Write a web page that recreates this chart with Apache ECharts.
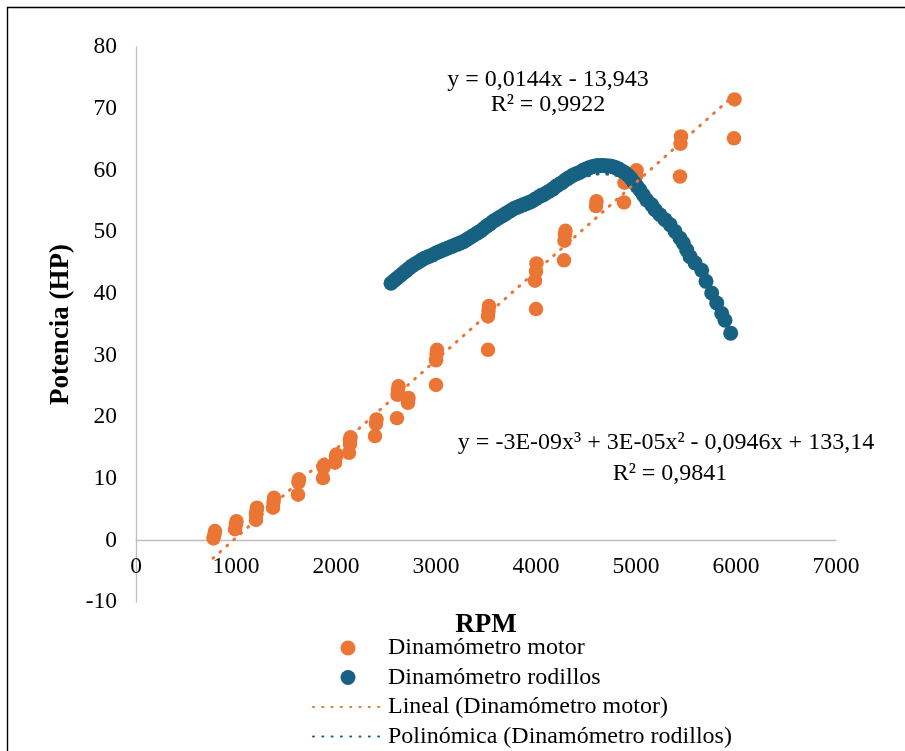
<!DOCTYPE html>
<html>
<head>
<meta charset="utf-8">
<script src="https://cdn.jsdelivr.net/npm/echarts@6/dist/echarts.min.js"></script>
<style>
html,body{margin:0;padding:0;background:#fff;}
#chart{width:905px;height:751px;}
</style>
</head>
<body>
<div id="chart"></div>
<script>
// ---- Data ----
const motorRpm = [775,785,790, 990,1000,1005, 1200,1200,1205,1210, 1370,1375,1380, 1620,1625,1630,
  1870,1875,1880, 1990,2000,2005, 2130,2140,2140,2145, 2390,2400,2405, 2610,2615,2620,2625, 2720,2725,
  3000,3000,3005,3010, 3520,3520,3525,3530, 4000,3990,4000,4005, 4280,4285,4290,4295, 4600,4605,
  4880,4885, 5000,5005, 5440,5445,5450, 5980,5985];
const motorHp = [0.3,1.0,1.5, 1.8,2.6,3.1, 3.3,4.2,4.8,5.3, 5.3,6.2,6.9, 7.4,9.4,9.9,
  10.1,11.8,12.2, 12.6,13.6,13.9, 14.2,15.6,16.2,16.7, 16.9,18.9,19.6, 19.8,23.6,24.4,25.0, 22.3,23.1,
  25.2,29.2,30.2,30.9, 30.9,36.3,37.2,38.0, 37.5,42.1,43.6,44.9, 45.4,48.6,49.6,50.2, 54.2,55.0,
  54.8,58.0, 59.0,60.0, 59.0,64.3,65.5, 65.2,71.5];

const rodRpm = [2550,2580,2610,2640,2670,2700,2730,2760,2790,2820,2850,2880,2910,2940,2970,
  3000,3030,3060,3090,3120,3150,3180,3210,3240,3270,3300,3330,3360,3390,3420,3450,3480,3510,3540,3570,
  3600,3630,3660,3690,3720,3750,3780,3810,3840,3870,3900,3930,3960,3990,4020,4050,4080,4110,4140,4170,
  4200,4230,4260,4290,4320,4350,4380,4410,4440,4470,4500,4530,4560,4590,4620,4650,4680,4710,4740,4770,
  4800,4830,4860,4890,4920,4950,4980,5010,5040,5073,5107,5157,5190,5240,5290,5340,5390,5440,5473,5507,
  5540,5590,5657,5700,5757,5807,5857,5890,5947];
const rodHp = [41.7,42.1,42.5,42.9,43.3,43.7,44.1,44.5,44.8,45.1,45.4,45.7,45.9,46.1,46.3,
  46.6,46.8,47.0,47.2,47.4,47.6,47.8,48.0,48.2,48.4,48.7,49.0,49.3,49.6,49.9,50.2,50.6,51.0,51.3,51.7,
  52.0,52.3,52.6,52.9,53.2,53.5,53.8,54.0,54.2,54.4,54.6,54.8,55.0,55.3,55.6,55.9,56.1,56.4,56.7,57.0,
  57.4,57.7,58.0,58.4,58.7,59.0,59.3,59.5,59.7,60.0,60.2,60.4,60.6,60.7,60.8,60.8,60.8,60.7,60.7,60.6,
  60.4,60.2,59.9,59.6,59.2,58.7,58.0,57.4,56.8,56.0,55.2,54.4,53.6,52.8,52.0,51.2,50.1,49.0,48.2,47.1,
  46.0,45.0,43.8,42.0,40.1,38.5,36.8,35.7,33.6];

// trend lines (as seen in the picture)
const linRpm = [770, 5990];
const linHp = [-2.9, 72.3];
const polRpm = [2550,2800,3050,3300,3550,3800,4050,4300,4500,4650,4800,4950,5100,5250,5400,5550,5700,5850,5950];
const polHp = [42.3,44.6,46.9,49.2,51.6,53.9,56.0,57.8,59.0,59.4,59.2,58.3,56.5,53.8,50.2,46.0,41.4,36.6,33.4];

const seriesNames = ['Dinamómetro motor','Dinamómetro rodillos','Lineal (Dinamómetro motor)','Polinómica (Dinamómetro rodillos)'];
const xTitle = 'RPM';
const yTitle = 'Potencia (HP)';
const eqLin = ['y = 0,0144x - 13,943', 'R² = 0,9922'];
const eqPol = ['y = -3E-09x³ + 3E-05x² - 0,0946x + 133,14', 'R² = 0,9841'];

const ORANGE = '#EB7534';
const BLUE = '#176182';
const FONT = '"Liberation Serif", "Times New Roman", serif';

const zip = (a, b) => a.map((v, i) => [v, b[i]]);

const chart = echarts.init(document.getElementById('chart'), null, {renderer: 'canvas'});
chart.setOption({
  animation: false,
  backgroundColor: '#fff',
  textStyle: {fontFamily: FONT, color: '#000'},
  grid: {left: 136, right: 69, top: 47, bottom: 149},
  xAxis: {
    type: 'value', min: 0, max: 7000, interval: 1000,
    offset: -61.7,
    name: xTitle, nameLocation: 'middle', nameGap: 71,
    nameTextStyle: {fontFamily: FONT, fontWeight: 'bold', fontSize: 27, color: '#000'},
    axisLine: {show: true, onZero: false, lineStyle: {color: '#BFBFBF', width: 1.3}},
    axisTick: {show: false},
    splitLine: {show: false},
    axisLabel: {fontFamily: FONT, fontSize: 23.5, color: '#000', margin: 15, formatter: v => String(v)}
  },
  yAxis: {
    type: 'value', min: -10, max: 80, interval: 10,
    name: yTitle, nameLocation: 'middle', nameGap: 59, nameRotate: 90,
    nameTextStyle: {fontFamily: FONT, fontWeight: 'bold', fontSize: 27, color: '#000'},
    axisLine: {show: true, onZero: false, lineStyle: {color: '#BFBFBF', width: 1.3}},
    axisTick: {show: false},
    splitLine: {show: false},
    axisLabel: {fontFamily: FONT, fontSize: 23.5, color: '#000', margin: 19, formatter: v => String(v)}
  },
  legend: {
    orient: 'vertical', left: 312, top: 636, padding: 0,
    itemWidth: 70, itemHeight: 15, itemGap: 5.5,
    textStyle: {fontFamily: FONT, fontSize: 24, color: '#000'},
    data: [
      {name: seriesNames[0]},
      {name: seriesNames[1]},
      {name: seriesNames[2], itemStyle: {opacity: 0}},
      {name: seriesNames[3], itemStyle: {opacity: 0}}
    ]
  },
  graphic: [
    {type: 'rect', shape: {x: 7.5, y: 7.5, width: 920, height: 780}, style: {fill: 'none', stroke: '#000', lineWidth: 1.4}, silent: true},
    {type: 'text', x: 548, y: 80, style: {text: eqLin[0], font: '24px ' + FONT, fill: '#000', textAlign: 'center', textVerticalAlign: 'middle'}},
    {type: 'text', x: 548, y: 105, style: {text: eqLin[1], font: '24px ' + FONT, fill: '#000', textAlign: 'center', textVerticalAlign: 'middle'}},
    {type: 'text', x: 666, y: 443, style: {text: eqPol[0], font: '24px ' + FONT, fill: '#000', textAlign: 'center', textVerticalAlign: 'middle'}},
    {type: 'text', x: 670, y: 474, style: {text: eqPol[1], font: '24px ' + FONT, fill: '#000', textAlign: 'center', textVerticalAlign: 'middle'}}
  ],
  series: [
    {
      name: seriesNames[0], type: 'scatter', symbol: 'circle', symbolSize: 14.5,
      itemStyle: {color: ORANGE, opacity: 1}, data: zip(motorRpm, motorHp), z: 2
    },
    {
      name: seriesNames[1], type: 'scatter', symbol: 'circle', symbolSize: 15,
      itemStyle: {color: BLUE, opacity: 1}, data: zip(rodRpm, rodHp), z: 2
    },
    {
      name: seriesNames[2], type: 'line', showSymbol: false, symbol: 'none',
      lineStyle: {color: ORANGE, width: 3, type: [1, 8.3], cap: 'round'},
      itemStyle: {color: ORANGE},
      data: zip(linRpm, linHp), z: 3
    },
    {
      name: seriesNames[3], type: 'line', showSymbol: false, symbol: 'none', smooth: true,
      lineStyle: {color: BLUE, width: 3, type: [1, 8.3], cap: 'round'},
      itemStyle: {color: BLUE},
      data: zip(polRpm, polHp), z: 3
    }
  ]
});
</script>
</body>
</html>
